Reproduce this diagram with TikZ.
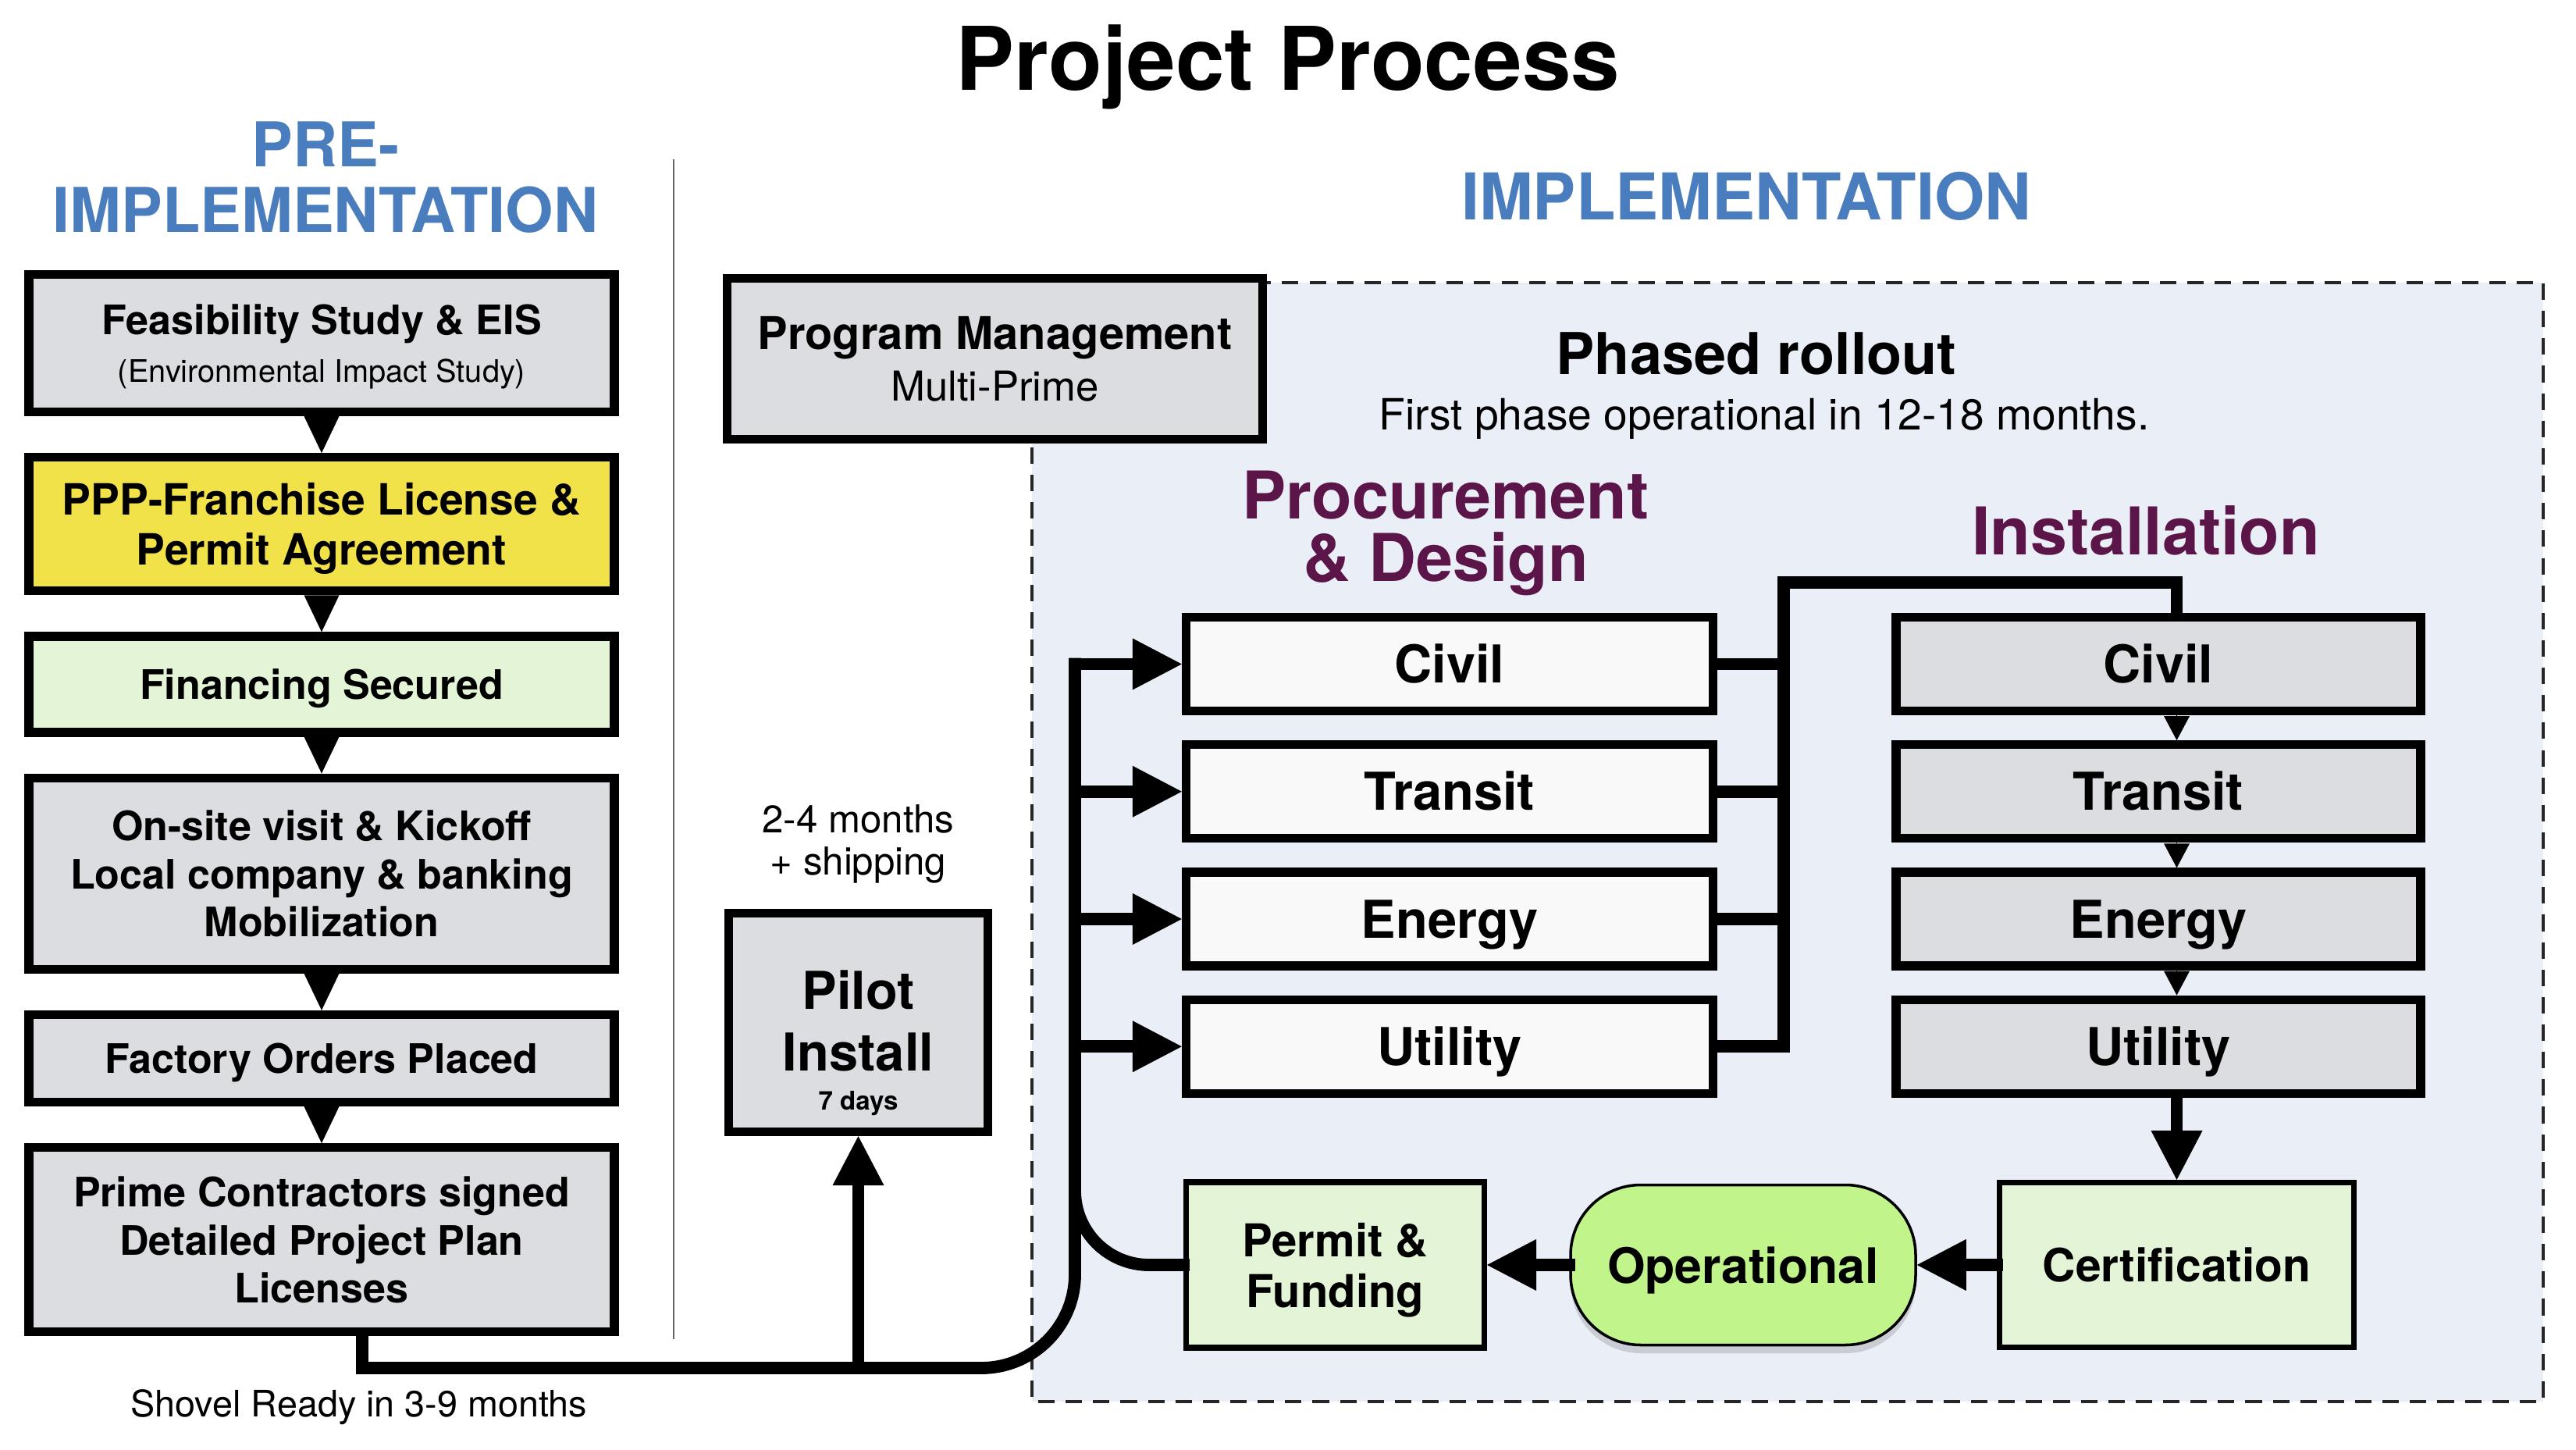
\documentclass[tikz,border=0pt]{standalone}
\usepackage{fontspec}
\setmainfont{TeX Gyre Heros}
\usetikzlibrary{arrows.meta,positioning,shadows}
\definecolor{boxgrey}{HTML}{DCDDE0}
\definecolor{ppyellow}{HTML}{F2E24A}
\definecolor{palegreen}{HTML}{E3F5D6}
\definecolor{opgreen}{HTML}{C1F58C}
\definecolor{implbg}{HTML}{EAEEF7}
\definecolor{headblue}{HTML}{4A7DBE}
\definecolor{phasepurple}{HTML}{5B1548}
\definecolor{pdwhite}{HTML}{F9F9F9}

\begin{document}
\begin{tikzpicture}[x=1cm,y=1cm,node distance=0.47cm,
  box/.style={draw,line width=3.2pt,minimum width=7.5cm,align=center,fill=boxgrey,text depth=0pt,
    font=\bfseries\fontsize{14.8}{17.5}\selectfont},
  pdbox/.style={draw,line width=3.2pt,minimum width=6.75cm,minimum height=1.2cm,fill=pdwhite,
    text height=13.7pt,text depth=0pt,font=\bfseries\fontsize{19}{21}\selectfont},
  instbox/.style={pdbox,minimum width=6.72cm,fill=boxgrey},
  endbox/.style={draw,line width=2pt,fill=palegreen,align=center,text depth=0pt,
    font=\bfseries\fontsize{16.7}{19}\selectfont},
  hdr/.style={text=headblue,align=center,font=\bfseries\fontsize{22.5}{24}\selectfont},
  phasehdr/.style={text=phasepurple,align=center,font=\bfseries\fontsize{24}{22.7}\selectfont},
  flow/.style={line width=4.5pt,line cap=rect},
  bigtip/.style={-{Triangle[length=0.63cm,width=0.66cm,line width=0pt]}},
  tri/.style={-{Triangle[length=0.47cm,width=0.45cm,line width=0pt]},line width=0.1pt},
  minitri/.style={-{Triangle[length=0.31cm,width=0.33cm,line width=0pt]},line width=0.1pt}]
  \useasboundingbox (0,0) rectangle (33,-18.57);

  \draw[fill=implbg,draw=black!85,line width=1pt,dash pattern=on 6pt off 4pt]
    (13.22,-3.62) rectangle (32.58,-17.95);
  \draw[black!60,line width=0.6pt] (8.63,-2.04) -- (8.63,-17.15);

  \node[font=\bfseries\fontsize{32}{36}\selectfont,anchor=base] (title) at (16.5,-1.16) {Project Process};
  \node[hdr] (pre) at (4.17,-2.27) {PRE-\\IMPLEMENTATION};
  \node[hdr,font=\bfseries\fontsize{23.5}{26}\selectfont,anchor=base] (impl) at (22.37,-2.82) {IMPLEMENTATION};

  % pre-implementation column
  \node[box,minimum height=1.76cm] (feas) at (4.12,-4.395)
    {Feasibility Study \& EIS\\{\mdseries\fontsize{11.3}{13}\selectfont(Environmental Impact Study)}};
  \node[box,fill=ppyellow,minimum height=1.71cm,below=of feas,font=\bfseries\fontsize{15.7}{18.2}\selectfont] (ppp)
    {PPP-Franchise License \&\\Permit Agreement};
  \node[box,fill=palegreen,minimum height=1.23cm,below=of ppp] (fin) {Financing Secured};
  \node[box,minimum height=2.45cm,below=of fin] (onsite) {On-site visit \& Kickoff\\Local company \& banking\\Mobilization};
  \node[box,minimum height=1.12cm,below=of onsite] (fact) {Factory Orders Placed};
  \node[box,minimum height=2.36cm,below=of fact] (prime) {Prime Contractors signed\\Detailed Project Plan\\Licenses};
  \node[font=\fontsize{13.3}{15}\selectfont,anchor=base] (shovel) at (4.6,-18.14) {Shovel Ready in 3-9 months};
  \foreach \a/\b in {feas/ppp,ppp/fin,fin/onsite,onsite/fact,fact/prime}
    \draw[tri] (\a) -- (\b);

  % middle column
  \node[box,minimum width=6.86cm,minimum height=2.06cm,font=\bfseries\fontsize{16.45}{19}\selectfont] (pm)
    at (12.745,-4.595) {Program Management\\{\mdseries\fontsize{15}{17}\selectfont Multi-Prime}};
  \node[box,minimum width=3.32cm,minimum height=2.8cm,font=\bfseries\fontsize{19}{22.6}\selectfont] (pilot)
    at (10.995,-13.095) {\rule{0pt}{27pt}Pilot\\Install\\[-8.3pt]{\fontsize{9.4}{11}\selectfont 7 days}};
  \node[font=\fontsize{14}{15.5}\selectfont,align=center,above=0.2cm of pilot] (ship) {2-4 months\\+ shipping};

  % implementation
  \node[font=\bfseries\fontsize{21}{24}\selectfont,anchor=base] (phased) at (22.5,-4.80) {Phased rollout};
  \node[font=\fontsize{15.7}{18}\selectfont,anchor=base] (first) at (22.6,-5.51) {First phase operational in 12-18 months.};
  \node[phasehdr] (proc) at (18.52,-6.83) {Procurement\\\& Design};
  \node[phasehdr,anchor=base] (instal) at (27.49,-7.11) {Installation};

  \node[pdbox] (pciv) at (18.57,-8.505) {Civil};
  \node[pdbox,below=0.32cm of pciv] (ptra) {Transit};
  \node[pdbox,below=0.32cm of ptra] (pene) {Energy};
  \node[pdbox,below=0.32cm of pene] (puti) {Utility};

  \node[instbox] (iciv) at (27.65,-8.505) {Civil};
  \node[instbox,below=0.32cm of iciv] (itra) {Transit};
  \node[instbox,below=0.32cm of itra] (iene) {Energy};
  \node[instbox,below=0.32cm of iene] (iuti) {Utility};

  \node[endbox,minimum width=4.54cm,minimum height=2.11cm] (cert) at (27.885,-16.2) {Certification};
  \node[endbox,fill=opgreen,line width=1pt,rounded corners=0.9cm,minimum width=4.42cm,minimum height=2.05cm,
    font=\bfseries\fontsize{17.8}{20}\selectfont,
    drop shadow={opacity=0.3,shadow xshift=0pt,shadow yshift=-3pt}] (oper) at (22.33,-16.2) {Operational};
  \node[endbox,minimum width=3.82cm,minimum height=2.12cm,font=\bfseries\fontsize{16.5}{18.5}\selectfont] (permit)
    at (17.105,-16.2) {Permit \&\\Funding};

  % connectors
  \coordinate (trunkbot) at (13.77,-17.52);
  \coordinate (bustop) at (22.85,-7.46);
  \draw[flow] ([xshift=0.52cm]prime.south) -- ([xshift=0.52cm]prime.south |- trunkbot);
  \draw[flow,rounded corners=1.2cm] ([xshift=0.52cm]prime.south |- trunkbot) -- (trunkbot) -- (trunkbot |- pciv);
  \draw[flow,bigtip] (trunkbot |- pciv) -- (pciv);
  \foreach \n in {ptra,pene,puti}
    \draw[flow,bigtip] (trunkbot |- \n) -- (\n);
  \draw[flow,bigtip] (pilot |- trunkbot) -- (pilot);
  \draw[flow,rounded corners=0.95cm] (permit) -- (trunkbot |- permit) -- ([yshift=1.3cm]trunkbot |- permit);

  \foreach \n in {pciv,ptra,pene}
    \draw[flow] (\n) -- (bustop |- \n);
  \draw[flow] (puti) -| (bustop) -| (iciv.north -| cert.north);
  \foreach \a/\b in {iciv/itra,itra/iene,iene/iuti}
    \draw[minitri] (\a.south -| cert) -- (\b.north -| cert);
  \draw[flow,bigtip] (iuti.south -| cert) -- (cert);
  \draw[flow,bigtip] (cert) -- (oper);
  \draw[flow,bigtip] (oper) -- (permit);
\end{tikzpicture}
\end{document}
